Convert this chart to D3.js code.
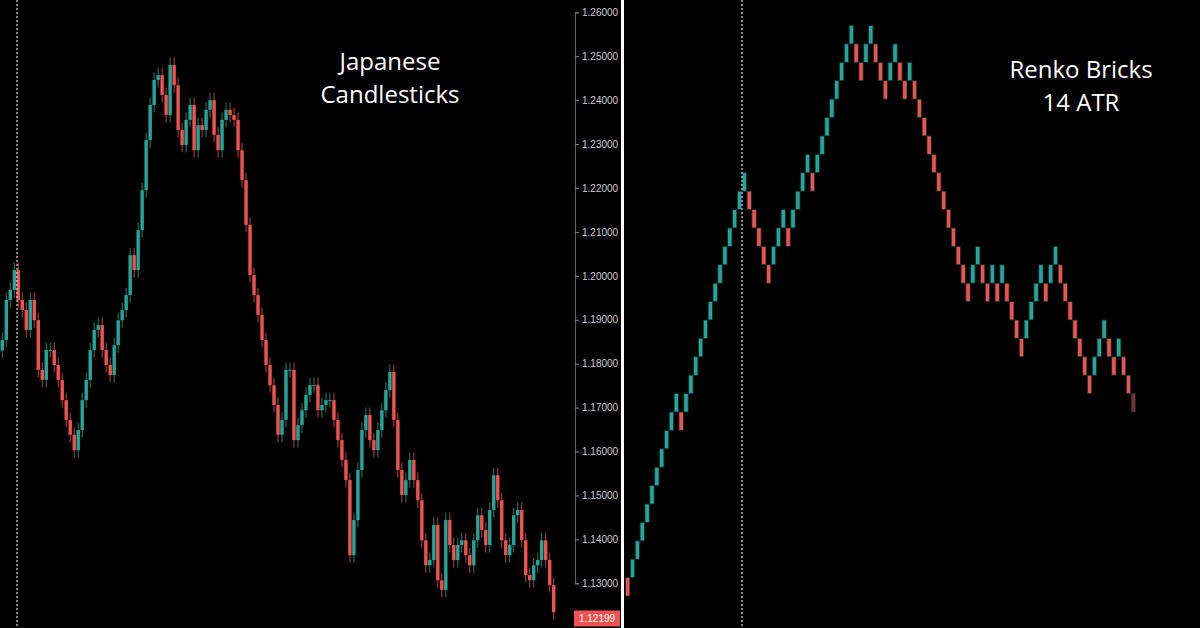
<!DOCTYPE html>
<html><head><meta charset="utf-8">
<script src="https://cdn.jsdelivr.net/npm/d3@7/dist/d3.min.js"></script>
<style>html,body{margin:0;background:#000;overflow:hidden}</style>
</head><body><svg id="c" width="1200" height="628"></svg>
<script>
const candleCloses=[1.1854,1.1945,1.1968,1.2013,1.1945,1.1922,1.1877,1.1945,1.1899,1.1786,1.1763,1.1831,1.1831,1.1797,1.1763,1.1717,1.1672,1.1638,1.1603,1.1649,1.1717,1.1763,1.1831,1.1877,1.1888,1.1831,1.1797,1.1774,1.1842,1.1899,1.1922,1.1956,1.2047,1.2013,1.2104,1.2195,1.2309,1.2389,1.2446,1.2457,1.2412,1.2366,1.2480,1.2434,1.2332,1.2298,1.2355,1.2389,1.2286,1.2343,1.2332,1.2378,1.2400,1.2321,1.2286,1.2355,1.2378,1.2366,1.2355,1.2286,1.2218,1.2116,1.2002,1.1956,1.1911,1.1854,1.1797,1.1751,1.1706,1.1638,1.1672,1.1786,1.1786,1.1626,1.1660,1.1694,1.1729,1.1751,1.1751,1.1694,1.1706,1.1717,1.1717,1.1672,1.1626,1.1581,1.1535,1.1364,1.1444,1.1558,1.1649,1.1683,1.1626,1.1603,1.1649,1.1694,1.1740,1.1781,1.1672,1.1558,1.1501,1.1535,1.1581,1.1535,1.1489,1.1398,1.1341,1.1353,1.1433,1.1307,1.1285,1.1444,1.1387,1.1353,1.1387,1.1398,1.1364,1.1341,1.1398,1.1455,1.1421,1.1387,1.1467,1.1546,1.1489,1.1398,1.1364,1.1387,1.1455,1.1467,1.1398,1.1319,1.1307,1.1341,1.1353,1.1398,1.1353,1.1296,1.1234];
const firstOpen=1.1830;
const renkoLevels=[0,1,2,3,4,5,6,7,8,9,10,9,10,11,12,13,14,15,16,17,18,19,20,21,22,21,20,19,18,17,18,19,20,19,20,21,22,23,22,23,24,25,26,27,28,29,30,29,28,29,30,29,28,27,28,29,28,27,28,27,26,25,24,23,22,21,20,19,18,17,16,17,18,17,16,17,16,17,16,15,14,13,14,15,16,17,16,17,18,17,16,15,14,13,12,11,12,13,14,13,12,13,12,11,10];
const renkoUp=[0,1,1,1,1,1,1,1,1,1,1,0,1,1,1,1,1,1,1,1,1,1,1,1,1,0,0,0,0,0,1,1,1,0,1,1,1,1,0,1,1,1,1,1,1,1,1,0,0,1,1,0,0,0,1,1,0,0,1,0,0,0,0,0,0,0,0,0,0,0,0,1,1,0,0,1,0,1,0,0,0,0,1,1,1,1,0,1,1,0,0,0,0,0,0,0,1,1,1,0,0,1,0,0,0];
const renkoBase=1.1271, renkoSize=0.00419;
const yTicks=[1.26,1.25,1.24,1.23,1.22,1.21,1.20,1.19,1.18,1.17,1.16,1.15,1.14,1.13];
const lastPrice=1.12199;

const svg=d3.select("#c");
const y=d3.scaleLinear().domain([1.13,1.26]).range([583.3,12.3]);
const TEAL="#26a69a", RED="#ef5350";

const xc=d3.scaleBand().domain(d3.range(candleCloses.length)).range([0,556]).padding(0.15);
const candles=candleCloses.map((c,i)=>{const o=i?candleCloses[i-1]:firstOpen;return {i,o,c,h:Math.max(o,c)+0.0017,l:Math.min(o,c)-0.0017};});
const g=svg.append("g");
g.selectAll("line.w").data(candles).join("line")
 .attr("x1",d=>xc(d.i)+xc.bandwidth()/2).attr("x2",d=>xc(d.i)+xc.bandwidth()/2)
 .attr("y1",d=>y(d.h)).attr("y2",d=>y(d.l))
 .attr("stroke",d=>d.c>=d.o?"#1d7f76":"#b5403e").attr("stroke-width",1);
g.selectAll("rect").data(candles).join("rect")
 .attr("x",d=>xc(d.i)).attr("width",xc.bandwidth())
 .attr("y",d=>y(Math.max(d.o,d.c))).attr("height",d=>Math.max(1,Math.abs(y(d.o)-y(d.c))))
 .attr("fill",d=>d.c>=d.o?TEAL:RED);

const xr=d3.scaleBand().domain(d3.range(renkoLevels.length)).range([625,1136]).padding(0.1);
const bricks=renkoLevels.map((l,i)=>({i,lo:renkoBase+l*renkoSize,hi:renkoBase+(l+1)*renkoSize,up:renkoUp[i]}));
svg.append("g").selectAll("rect").data(bricks).join("rect")
 .attr("x",d=>xr(d.i)).attr("width",xr.bandwidth())
 .attr("y",d=>y(d.hi)).attr("height",d=>y(d.lo)-y(d.hi))
 .attr("fill",(d,i)=>i===bricks.length-1?"#7a3038":(d.up?TEAL:RED))
 .attr("stroke","#0d2a27").attr("stroke-width",0.8);

[17,742].forEach(x=>svg.append("line").attr("x1",x).attr("x2",x).attr("y1",0).attr("y2",628)
 .attr("stroke","#ddd").attr("stroke-width",1.2).attr("stroke-dasharray","2,2"));

const ax=svg.append("g").attr("transform","translate(575,0)");
ax.call(d3.axisRight(y).tickValues(yTicks).tickFormat(d3.format(".5f")).tickSize(4));
ax.select(".domain").attr("stroke","#666");
ax.selectAll(".tick line").attr("stroke","#888");
ax.selectAll(".tick text").attr("fill","#ccc").attr("font-family","Arial, Liberation Sans, sans-serif").attr("font-size",10).attr("x",7);
svg.append("rect").attr("x",574).attr("y",y(lastPrice)-8).attr("width",46).attr("height",16).attr("fill","#f05050");
svg.append("text").attr("x",597).attr("y",y(lastPrice)+4).attr("text-anchor","middle").attr("fill","#fff")
 .attr("font-family","Liberation Sans, Arial, sans-serif").attr("font-size",10).text(d3.format(".5f")(lastPrice));

svg.append("rect").attr("x",621).attr("y",0).attr("width",3).attr("height",628).attr("fill","#fff");

const tf="Open Sans, sans-serif";
[["Japanese",390,70],["Candlesticks",390,103],["Renko Bricks",1081,78],["14 ATR",1081,111]].forEach(([t,x,yy])=>
 svg.append("text").attr("x",x).attr("y",yy).attr("text-anchor","middle").attr("fill","#fff")
  .attr("font-family",tf).attr("font-size",24).text(t));
</script></body></html>
